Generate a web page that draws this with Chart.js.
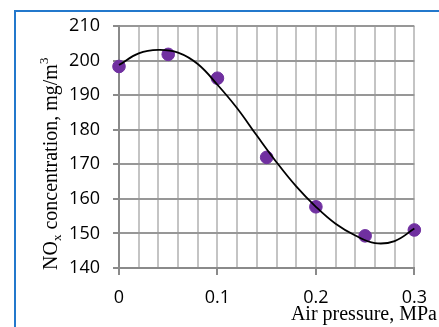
<!DOCTYPE html>
<html>
<head>
<meta charset="utf-8">
<script src="https://cdn.jsdelivr.net/npm/chart.js@4"></script>
<style>
  html, body { margin: 0; padding: 0; background: #fff; }
  canvas { display: block; }
</style>
</head>
<body>
<canvas id="chart" width="439" height="327"></canvas>
<script>
// measured points
const pressure = [0, 0.05, 0.1, 0.15, 0.2, 0.25, 0.3];
const noxValues = [198.3, 201.8, 194.9, 172, 157.7, 149.3, 151];

// trendline
const trendX = [0, 0.02, 0.04, 0.06, 0.08, 0.1, 0.12, 0.14, 0.16, 0.18, 0.2, 0.22, 0.24, 0.26, 0.28, 0.3];
const trendY = [198.7, 202.1, 203.1, 202.3, 199, 193, 186.2, 178.3, 170.6, 163.6, 157.7, 152.8, 149.4, 147.2, 147.8, 151.4];

const yTicks = [140, 150, 160, 170, 180, 190, 200, 210];

const isMajorX = v => Math.round(v * 100) % 10 === 0;

// frame + axis titles
const decor = {
  id: 'decor',
  afterDraw(chart) {
    const c = chart.ctx;
    c.save();
    c.strokeStyle = '#2378cc';
    c.lineWidth = 2;
    c.strokeRect(15, 11, 600, 600);

    c.fillStyle = '#000';
    c.textBaseline = 'alphabetic';
    // x title
    c.font = '20px "Liberation Serif"';
    c.textAlign = 'right';
    c.fillText('Air pressure, MPa', 437, 320);

    // y title, rotated, with sub/superscript
    c.translate(57, 270);
    c.rotate(-Math.PI / 2);
    c.textAlign = 'left';
    const big = '20px "Liberation Serif"', small = '13px "Liberation Serif"';
    let u = 0;
    const part = (txt, font, dy) => {
      c.font = font;
      c.fillText(txt, u, dy);
      u += c.measureText(txt).width;
    };
    part('NO', big, 0);
    part('x', small, 4);
    part(' concentration, mg/m', big, 0);
    part('3', small, -9);
    c.restore();
  }
};

new Chart(document.getElementById('chart'), {
  type: 'scatter',
  data: {
    datasets: [
      {
        label: 'trend',
        data: trendX.map((x, i) => ({ x, y: trendY[i] })),
        showLine: true,
        borderColor: '#000',
        borderWidth: 1.8,
        pointRadius: 0,
        tension: 0.4,
        fill: false,
        clip: false
      },
      {
        label: 'NOx',
        data: pressure.map((x, i) => ({ x, y: noxValues[i] })),
        backgroundColor: '#7030a0',
        borderColor: '#7030a0',
        pointRadius: 6.3,
        pointHoverRadius: 6.3,
        clip: false
      }
    ]
  },
  options: {
    responsive: false,
    animation: false,
    events: [],
    layout: { padding: { top: 26, right: 22, left: 0, bottom: 0 } },
    plugins: { legend: { display: false }, tooltip: { enabled: false } },
    scales: {
      x: {
        type: 'linear',
        min: 0,
        max: 0.3,
        afterFit: s => { s.height = 59; },
        ticks: {
          stepSize: 0.02,
          autoSkip: false,
          maxRotation: 0,
          padding: 12,
          color: '#000',
          font: { family: '"Open Sans"', size: 18 },
          callback: v => isMajorX(v) ? String(Math.round(v * 100) / 100) : ''
        },
        grid: {
          color: '#c4c4c4',
          lineWidth: 2,
          tickLength: 7,
          tickColor: ctx => isMajorX(ctx.tick.value) ? '#8a8a8a' : 'rgba(0,0,0,0)'
        },
        border: { color: '#8a8a8a', width: 2 }
      },
      y: {
        min: 140,
        max: 210,
        afterFit: s => { s.width = 119; },
        afterBuildTicks: s => { s.ticks = yTicks.map(v => ({ value: v })); },
        ticks: {
          padding: 13,
          color: '#000',
          font: { family: '"Open Sans"', size: 18 }
        },
        grid: {
          color: '#979797',
          lineWidth: 2,
          tickLength: 6,
          tickColor: '#8a8a8a'
        },
        border: { color: '#8a8a8a', width: 2 }
      }
    }
  },
  plugins: [decor]
});
</script>
</body>
</html>
